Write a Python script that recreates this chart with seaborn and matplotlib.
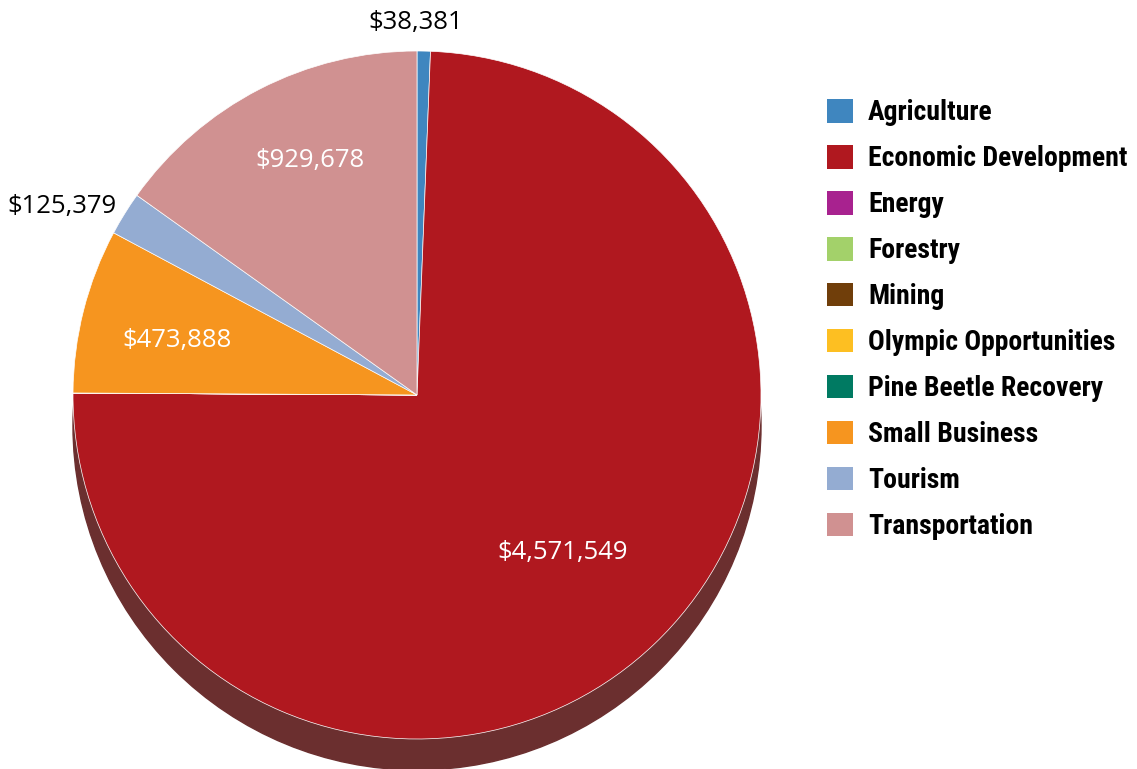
import numpy as np
import seaborn as sns
import matplotlib.pyplot as plt
from matplotlib import font_manager
from matplotlib.patches import Patch, Circle

# data
categories = ["Agriculture", "Economic Development", "Energy", "Forestry", "Mining",
              "Olympic Opportunities", "Pine Beetle Recovery", "Small Business",
              "Tourism", "Transportation"]
amounts = [38381, 4571549, 0, 0, 0, 0, 0, 473888, 125379, 929678]
hex_colors = ["#3f86bf", "#b0181f", "#a8228f", "#a3d16a", "#703e0a",
              "#fdbf22", "#007a62", "#f6951f", "#94acd2", "#d09191"]

# label placement: radial distance (in radii) and angle nudge (deg) per slice
label_dist = [1.084, 0.625, None, None, None, None, None, 0.715, 1.17, 0.75]
label_nudge = [1.4, -1.0, 0, 0, 0, 0, 0, 1.5, 3.8, -2.8]
label_inside = [False, True, False, False, False, False, False, True, False, True]

sns.set_style("white")
plt.rcParams['font.family'] = ['Open Sans', 'DejaVu Sans']
palette = sns.color_palette(hex_colors)

# pick a condensed font for the legend if one is installed
installed = {f.name for f in font_manager.fontManager.ttflist}
legend_font = 'DejaVu Sans'
for name in ['Liberation Sans Narrow', 'Roboto Condensed', 'DejaVu Sans Condensed',
             'Open Sans Condensed', 'Noto Sans Condensed', 'Roboto', 'Inter']:
    if name in installed:
        legend_font = name
        break

fig = plt.figure(figsize=(11.37, 7.69), dpi=100)
ax = fig.add_axes([0, 0, 1, 1])

cx, cy, r = 417, 374, 344

# 3d-ish extrusion under the pie
ax.add_patch(Circle((cx, cy - 31), r, color="#6b2f2f", zorder=0))

wedges, _ = ax.pie(amounts, colors=palette, startangle=90, counterclock=False,
                   center=(cx, cy), radius=r, frame=True,
                   wedgeprops=dict(linewidth=0.5, edgecolor="white"))
for w in wedges:
    w.set_zorder(1)
ax.set_xlim(0, 1137)
ax.set_ylim(0, 769)
ax.set_aspect("equal")
ax.axis("off")

for w, amt, d, nudge, inside in zip(wedges, amounts, label_dist, label_nudge, label_inside):
    if d is None or amt == 0:
        continue
    mid = np.deg2rad((w.theta1 + w.theta2) / 2 + nudge)
    x = cx + d * r * np.cos(mid)
    y = cy + d * r * np.sin(mid)
    ax.text(x, y, f"${amt:,}", ha="center", va="center", fontsize=18.5,
            color="white" if inside else "black", zorder=3)

handles = [Patch(facecolor=c, edgecolor="none") for c in palette]


def make_legend(size, spacing, anchor):
    px = size * 100 / 72
    return ax.legend(handles, categories, loc="upper left",
                     bbox_to_anchor=(anchor[0] / 1137, anchor[1] / 769),
                     bbox_transform=fig.transFigure, frameon=False, borderpad=0,
                     borderaxespad=0, handlelength=26 / px, handleheight=26 / px,
                     handletextpad=15 / px, labelspacing=spacing, labelcolor="black",
                     prop=dict(family=[legend_font, 'DejaVu Sans'], weight='bold', size=size))


# first pass, then fit width (~260 px), row pitch (46 px) and first square (827, 99)
leg_size, spacing, anchor = 19, 0.6, [827, 769 - 99]
renderer = fig.canvas.get_renderer()
for _ in range(3):
    leg = make_legend(leg_size, spacing, anchor)
    fig.canvas.draw()
    widest = max(t.get_window_extent(renderer).width for t in leg.get_texts())
    boxes = [h.get_window_extent(renderer) for h in leg.legend_handles]
    pitch = boxes[0].y1 - boxes[1].y1
    dx = 827 - boxes[0].x0
    dy = (769 - 99) - boxes[0].y1
    leg.remove()
    new_size = leg_size * 260 / widest
    spacing = spacing + (46 - pitch) / (leg_size * 100 / 72)
    spacing = spacing * leg_size / new_size
    leg_size = new_size
    anchor = [anchor[0] + dx, anchor[1] + dy]

leg = make_legend(leg_size, spacing, anchor)

fig.savefig("out.png", dpi=100)
